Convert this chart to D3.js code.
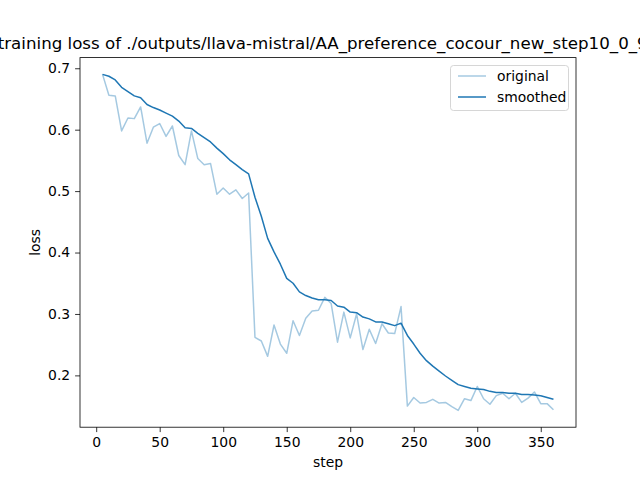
<!DOCTYPE html>
<html>
<head>
<meta charset="utf-8">
<script src="https://cdn.jsdelivr.net/npm/d3@7"></script>
<style>
html, body { margin: 0; padding: 0; background: #fff; }
svg { display: block; font-family: "DejaVu Sans", sans-serif; }
</style>
</head>
<body>
<svg id="chart" width="640" height="480"></svg>
<script>
const steps = [5,10,15,20,25,30,35,40,45,50,55,60,65,70,75,80,85,90,95,100,105,110,115,120,125,130,135,140,145,150,155,160,165,170,175,180,185,190,195,200,205,210,215,220,225,230,235,240,245,250,255,260,265,270,275,280,285,290,295,300,305,310,315,320,325,330,335,340,345,350,355,360];
const original = [0.690,0.656,0.655,0.598,0.619,0.618,0.637,0.578,0.604,0.610,0.589,0.606,0.558,0.543,0.598,0.553,0.543,0.545,0.495,0.505,0.495,0.502,0.488,0.497,
  0.262,0.256,0.231,0.282,0.251,0.236,0.289,0.265,0.293,0.305,0.306,0.327,0.317,0.254,0.303,0.261,0.300,0.242,0.275,0.252,0.284,0.269,0.268,0.312,
  0.150,0.164,0.155,0.156,0.161,0.155,0.156,0.149,0.143,0.162,0.159,0.182,0.162,0.153,0.167,0.171,0.162,0.171,0.156,0.163,0.173,0.154,0.154,0.144];
const smoothed = [0.690,0.687,0.681,0.669,0.662,0.655,0.652,0.641,0.636,0.632,0.627,0.622,0.614,0.603,0.602,0.594,0.587,0.580,0.570,0.561,0.551,0.543,0.535,0.528,
  0.490,0.459,0.423,0.401,0.381,0.358,0.350,0.336,0.330,0.326,0.323,0.323,0.322,0.313,0.311,0.303,0.302,0.295,0.292,0.287,0.287,0.284,0.281,0.285,
  0.265,0.251,0.236,0.224,0.215,0.207,0.199,0.192,0.185,0.182,0.179,0.178,0.177,0.174,0.172,0.172,0.171,0.171,0.169,0.169,0.168,0.167,0.164,0.161];
const xTicks = [0,50,100,150,200,250,300,350];
const yTicks = [0.2,0.3,0.4,0.5,0.6,0.7];
const seriesNames = ["original","smoothed"];
const titleText = "training loss of ./outputs/llava-mistral/AA_preference_cocour_new_step10_0_95";

const W = 640, H = 480;
const L = 80, R = 576, T = 57.6, B = 427.2;
const svg = d3.select("#chart");

const xmin = d3.min(steps), xmax = d3.max(steps);
const xm = (xmax - xmin) * 0.05;
const all = original.concat(smoothed);
const ymin = d3.min(all), ymax = d3.max(all);
const ym = (ymax - ymin) * 0.05;

const x = d3.scaleLinear().domain([xmin - xm, xmax + xm]).range([L, R]);
const y = d3.scaleLinear().domain([ymin - ym, ymax + ym]).range([B, T]);

const fontSize = 13.9;

// axes
const xAxis = svg.append("g").attr("transform", `translate(0,${B})`)
  .call(d3.axisBottom(x).tickValues(xTicks).tickFormat(d3.format("d")).tickSizeOuter(0).tickSize(4.9).tickPadding(4.9));
const yAxis = svg.append("g").attr("transform", `translate(${L},0)`)
  .call(d3.axisLeft(y).tickValues(yTicks).tickFormat(d3.format(".1f")).tickSizeOuter(0).tickSize(4.9).tickPadding(4.9));
[xAxis, yAxis].forEach(g => {
  g.select(".domain").remove();
  g.selectAll("line").attr("stroke", "#000").attr("stroke-width", 0.8);
  g.selectAll("text").attr("font-family", "DejaVu Sans").attr("font-size", fontSize).attr("fill", "#000");
});

// lines
const line = (vals) => d3.line().x((d, i) => x(steps[i])).y(d => y(d))(vals);
svg.append("path").attr("d", line(original)).attr("fill", "none")
  .attr("stroke", "#1f77b4").attr("stroke-opacity", 0.4).attr("stroke-width", 1.5).attr("stroke-linejoin", "round");
svg.append("path").attr("d", line(smoothed)).attr("fill", "none")
  .attr("stroke", "#1f77b4").attr("stroke-width", 1.5).attr("stroke-linejoin", "round");

// frame
svg.append("rect").attr("x", L).attr("y", T).attr("width", R - L).attr("height", B - T)
  .attr("fill", "none").attr("stroke", "#000").attr("stroke-width", 0.8);

// labels
svg.append("text").attr("x", (L + R) / 2).attr("y", 467).attr("text-anchor", "middle")
  .attr("font-size", fontSize).text("step");
svg.append("text").attr("transform", `translate(40,${(T + B) / 2}) rotate(-90)`).attr("text-anchor", "middle")
  .attr("font-size", fontSize).text("loss");
svg.append("text").attr("x", (L + R) / 2).attr("y", 49).attr("text-anchor", "middle")
  .attr("font-size", 16.67).text(titleText);

// legend
const lg = svg.append("g");
lg.append("rect").attr("x", 450.5).attr("y", 65.5).attr("width", 118).attr("height", 45).attr("rx", 3)
  .attr("fill", "#fff").attr("fill-opacity", 0.8).attr("stroke", "#cccccc").attr("stroke-width", 0.8);
seriesNames.forEach((name, i) => {
  const yy = 76 + i * 21;
  lg.append("line").attr("x1", 458).attr("x2", 486).attr("y1", yy).attr("y2", yy)
    .attr("stroke", "#1f77b4").attr("stroke-opacity", i === 0 ? 0.4 : 1).attr("stroke-width", 1.5);
  lg.append("text").attr("x", 497).attr("y", yy + 5).attr("font-size", fontSize).text(name);
});
</script>
</body>
</html>
